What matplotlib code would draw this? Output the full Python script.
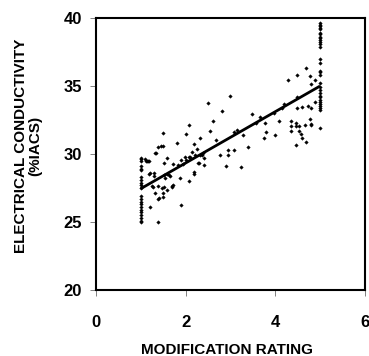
import numpy as np
import matplotlib
matplotlib.use("Agg")
import matplotlib.pyplot as plt

plt.rcParams["font.family"] = ["Liberation Sans", "DejaVu Sans"]

# ── Data ──────────────────────────────────────────────────────────────────────

# column of ratings = 1
col1_y = [29.7, 29.6, 29.5, 29.1, 28.9, 28.8, 28.3, 28.1, 27.9, 27.7, 27.5,
          26.9, 26.7, 26.5, 26.3, 26.1, 25.9, 25.7, 25.5, 25.3, 25.1, 25.0]

# column of ratings = 5
col5_y = [39.6, 39.5, 39.4, 39.3, 39.2, 38.9, 38.8, 38.6, 38.5, 38.4, 38.2,
          38.1, 37.9, 37.0, 36.7, 36.1, 36.0, 35.8, 35.2, 34.9, 34.7, 34.5,
          34.3, 34.2, 34.0, 33.8, 33.7, 33.5, 33.4, 33.2, 31.9]

# intermediate ratings
mid_x = [1.10, 1.15, 1.12, 1.19, 1.39, 1.44, 1.50, 1.32, 1.35, 1.80,
         1.58, 1.52, 1.71, 1.90, 1.99, 2.01, 2.08, 2.18, 2.14, 2.20,
         2.32, 2.38, 2.29, 2.40, 2.19, 2.19, 2.08, 1.87, 1.90, 1.19,
         1.30, 1.21, 1.29, 1.39, 1.26, 1.52, 1.58, 1.64, 1.54, 1.65,
         1.52, 1.59, 1.70, 1.70, 1.71, 1.32, 1.50, 1.39, 1.41, 1.50,
         1.28, 1.47, 1.21, 1.39, 2.77, 2.95, 2.95, 3.09, 2.90, 3.24,
         3.39, 4.46, 4.69, 2.49, 3.00, 2.81, 2.60, 2.54, 2.08, 2.00,
         1.50, 2.31, 2.67, 3.09, 3.29, 3.49, 3.58, 3.77, 3.79, 3.75,
         3.99, 4.08, 3.97, 4.20, 4.29, 4.48, 4.69, 4.78, 4.88, 4.79,
         4.49, 4.48, 4.60, 4.74, 4.79, 4.89, 4.35, 4.46, 4.35, 4.47,
         4.52, 4.35, 4.54, 4.58, 4.60, 4.67, 4.78, 4.79, 4.79, 2.09,
         2.37, 2.41, 2.28, 1.17, 1.84, 1.95, 2.25, 3.15, 3.65, 4.15]
mid_y = [29.60, 29.50, 29.45, 29.49, 30.54, 30.59, 30.59, 30.10, 30.05, 30.79,
         29.68, 29.36, 29.26, 29.56, 29.76, 29.56, 29.80, 30.74, 30.17, 29.90,
         29.93, 30.05, 29.32, 29.21, 28.70, 28.50, 27.99, 28.26, 26.25, 28.53,
         28.38, 28.58, 28.58, 27.65, 27.65, 28.46, 28.53, 28.43, 28.21, 28.38,
         27.55, 27.35, 27.65, 27.55, 27.72, 27.11, 27.11, 26.67, 26.74, 26.82,
         27.60, 27.52, 26.13, 25.00, 29.93, 29.93, 30.29, 30.29, 29.10, 29.02,
         30.49, 30.66, 30.88, 33.73, 34.26, 33.18, 32.43, 31.69, 32.11, 31.49,
         31.54, 31.20, 31.00, 31.60, 31.38, 32.94, 32.26, 32.26, 31.60, 31.15,
         31.38, 32.40, 33.00, 33.65, 35.42, 35.83, 36.32, 35.71, 35.42, 35.15,
         34.17, 33.36, 33.48, 33.55, 33.40, 33.85, 32.40, 32.26, 32.06, 32.06,
         32.06, 31.69, 31.69, 31.45, 31.18, 32.13, 32.55, 32.22, 32.13, 29.80,
         29.95, 29.68, 29.32, 29.50, 29.20, 29.30, 30.35, 31.75, 32.70, 33.40]

# fitted line end points
fit_x = [1.0, 5.0]
fit_y = [27.45, 35.0]

x_ticks = [0, 2, 4, 6]
y_ticks = [20, 25, 30, 35, 40]

# ── Plot ──────────────────────────────────────────────────────────────────────

all_x = [1.0] * len(col1_y) + [5.0] * len(col5_y) + mid_x
all_y = col1_y + col5_y + mid_y

fig = plt.figure(figsize=(3.69, 3.56), dpi=100)
ax = fig.add_axes([0.260, 0.1854, 0.729, 0.764])

ax.plot(all_x, all_y, ls="none", marker="D", ms=1.8, mfc="black", mec="black",
        mew=0.3)
ax.plot(fit_x, fit_y, color="black", lw=2.0, solid_capstyle="butt")

ax.set_xlim(0, 6)
ax.set_ylim(20, 40)
ax.set_xticks(x_ticks)
ax.set_yticks(y_ticks)

for s in ax.spines.values():
    s.set_linewidth(1.5)
    s.set_color("black")

ax.tick_params(axis="both", direction="out", length=4, width=0.7,
               color="#808080", labelsize=12)
ax.tick_params(axis="x", pad=14)
ax.tick_params(axis="y", pad=6)
for lab in ax.get_xticklabels() + ax.get_yticklabels():
    lab.set_fontweight("bold")

ax.set_xlabel("MODIFICATION RATING", fontsize=11, fontweight="bold",
              ha="center", va="center")
ax.xaxis.set_label_coords(0.486, -0.22)
ax.set_ylabel("ELECTRICAL CONDUCTIVITY\n(%IACS)", fontsize=11,
              fontweight="bold", ha="center", va="center", linespacing=1.0)
ax.yaxis.set_label_coords(-0.251, 0.53)

fig.savefig("out.png", dpi=100)
